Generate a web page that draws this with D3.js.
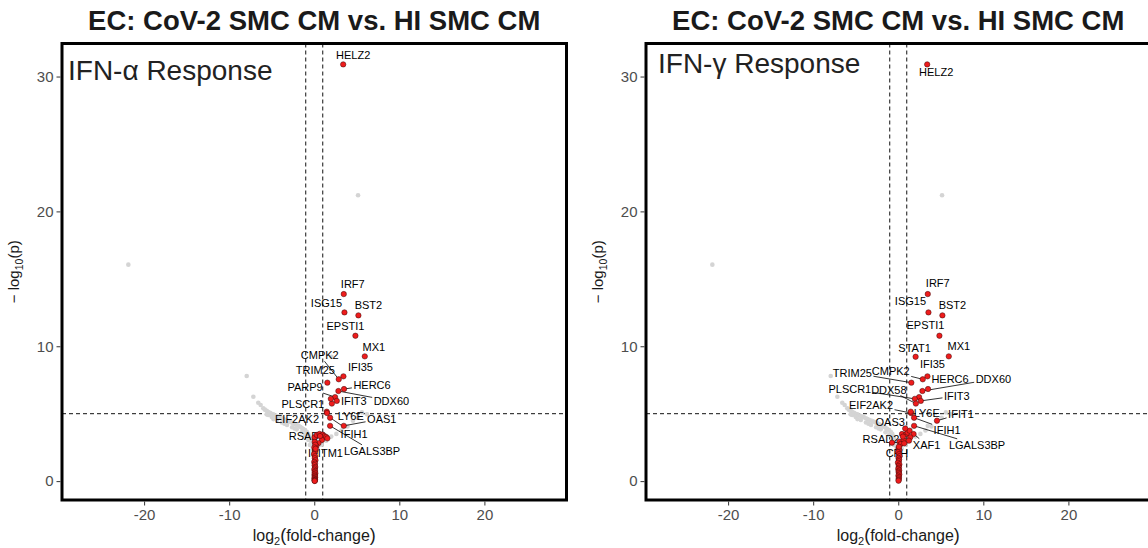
<!DOCTYPE html>
<html>
<head>
<meta charset="utf-8">
<script src="https://cdn.jsdelivr.net/npm/d3@7"></script>
<style>
  body { margin: 0; background: #fff; }
  svg { display: block; font-family: "Liberation Sans", Arial, Helvetica, sans-serif; }
</style>
</head>
<body>
<svg id="chart" width="1148" height="548"></svg>
<script>
// ---- Data -------------------------------------------------------------
const plotTitle = "EC: CoV-2 SMC CM vs. HI SMC CM";
const xTicks = [-20, -10, 0, 10, 20];
const yTicks = [0, 10, 20, 30];
const fcCut = 1;      // |log2 fold-change| threshold
const pCut = 5;       // -log10(p) threshold

// all tested genes (drawn in grey underneath each gene set)
const bgFC = [-21.85, 5.15, -7.94, -7.16, -6.58, -6.3, -5.99, -5.8, -5.59, -5.4, -5.2, -5.0, -4.81, -4.6,
  -4.41, -4.2, -4.02, -3.8, -3.63, -3.45, -3.24, -3.05, -2.85, -2.65, -2.45, -2.25, -2.06, -1.85, -1.67,
  -1.48, -1.28, -1.08, -0.88, -0.7, -0.55, -0.45, -0.35, -0.25, -0.18, -0.12,
  -5.6, -5.4, -5.0, -4.8, -4.4, -3.8, -3.5, -3.2, -2.6, -2.3, -2.06, -1.5, -1.08, -0.69, -0.5,
  0.4, 0.8, 1.4, 2.0, 2.6, 3.2, 3.9, 4.55, 3.47, 5.1, 5.6, 6.2, 2.04];
const bgP = [16.05, 21.2, 7.8, 6.26, 5.81, 5.64, 5.40, 5.3, 5.22, 5.12, 5.07, 5.0, 4.95, 4.88,
  4.83, 4.77, 4.73, 4.66, 4.6, 4.55, 4.5, 4.45, 4.4, 4.34, 4.28, 4.22, 4.16, 4.1, 4.03,
  3.95, 3.86, 3.76, 3.66, 3.5, 3.3, 3.1, 2.9, 2.7, 2.5, 2.3,
  4.95, 4.9, 4.75, 4.6, 4.53, 4.35, 4.25, 4.16, 4.0, 3.9, 3.84, 3.62, 3.42, 3.05, 2.68,
  2.4, 2.7, 3.0, 3.3, 3.5, 3.75, 4.05, 4.48, 4.1, 4.7, 5.1, 4.95, 9.22];

// IFN-alpha response genes: labelled members
const alphaGenes = ["HELZ2", "IRF7", "ISG15", "BST2", "EPSTI1", "MX1", "IFI35", "CMPK2", "TRIM25", "HERC6",
  "DDX60", "PARP9", "IFIT3", "PLSCR1", "LY6E", "EIF2AK2", "OAS1", "IFIH1", "LGALS3BP", "RSAD2", "IFITM1"];
const alphaFC = [3.4, 3.47, 3.55, 5.19, 4.84, 5.94, 3.43, 2.88, 1.54, 3.5,
  2.84, 2.45, 2.65, 1.95, 1.47, 1.5, 3.47, 1.86, 1.86, 0.68, 0.15];
const alphaP = [30.9, 13.87, 12.51, 12.29, 10.78, 9.25, 7.77, 7.55, 7.3, 6.83,
  6.68, 6.23, 5.95, 6.1, 5.15, 5.05, 4.1, 4.7, 4.1, 3.34, 2.4];
// IFN-alpha response genes: remaining members
const alphaOtherFC = [2.07, 0.05, 0.3, 0.62, 1.0, 1.19, 1.4, 1.54, 0.9, 0.5, 0.25,
  0.05, 0.12, 0.02, 0.15, 0.08, -0.03, 0.1, 0.06, 0.14, 0.0, 0.09, 0.04, 0.12, 0.07, 0.01,
  0.1, 0.05, 0.13, 0.03, 0.08, 0.06, 0.11, 0.02, 0.07, 0.09, 0.04, 0.06, 0.05];
const alphaOtherP = [5.75, 3.25, 3.42, 3.5, 3.45, 3.34, 3.28, 3.17, 3.05, 2.82, 2.6,
  2.9, 2.7, 2.5, 2.3, 2.15, 2.0, 1.85, 1.7, 1.55, 1.42, 1.3, 1.18, 1.05, 0.95, 0.85,
  0.75, 0.66, 0.58, 0.5, 0.42, 0.35, 0.28, 0.22, 0.16, 0.1, 0.06, 0.03, 0.01];

// IFN-gamma response genes: labelled members
const gammaGenes = ["HELZ2", "IRF7", "ISG15", "BST2", "EPSTI1", "MX1", "STAT1", "IFI35", "CMPK2", "TRIM25",
  "HERC6", "DDX60", "PLSCR1", "DDX58", "IFIT3", "EIF2AK2", "LY6E", "IFIT1", "IFIH1", "LGALS3BP",
  "XAF1", "OAS3", "RSAD2", "CFH"];
const gammaFC = [3.4, 3.47, 3.55, 5.19, 4.84, 5.94, 2.04, 3.43, 2.88, 1.54,
  3.5, 2.84, 1.95, 2.07, 2.65, 1.5, 1.47, 4.55, 1.86, 1.86,
  1.33, 0.82, -0.74, 0.08];
const gammaP = [30.9, 13.87, 12.51, 12.29, 10.78, 9.25, 9.22, 7.77, 7.55, 7.3,
  6.83, 6.68, 6.1, 5.75, 5.95, 5.05, 5.15, 4.48, 4.7, 4.1,
  3.74, 3.9, 2.85, 2.55];
// IFN-gamma response genes: remaining members
const gammaOtherFC = [2.45, 0.44, 0.94, 1.8, 1.41, 0.16, 0.63, 1.1, 0.3, 0.55, 1.25, 0.7,
  0.04, 0.12, -0.02, 0.09, 0.15, 0.03, 0.1, 0.06, -0.04, 0.13, 0.05, 0.08, 0.0, 0.11,
  0.04, 0.07, 0.12, 0.02, 0.09, 0.05, 0.06, 0.03];
const gammaOtherP = [6.23, 3.49, 3.49, 3.49, 3.25, 2.92, 3.05, 3.6, 2.75, 3.3, 3.0, 2.8,
  2.45, 2.3, 2.15, 2.0, 1.85, 1.72, 1.6, 1.48, 1.36, 1.24, 1.12, 1.0, 0.9, 0.8,
  0.7, 0.6, 0.5, 0.4, 0.3, 0.2, 0.1, 0.03];

// ---- Label placement (pixel nudges from each point; 1 = draw a leader segment)
const alphaNudge = {
  HELZ2: [10, -9, 0], IRF7: [9, -10, 0], ISG15: [-18, -9, 0], BST2: [10, -10, 0],
  EPSTI1: [-10, -10, 0], MX1: [9, -9, 0], IFI35: [17, -9, 0], CMPK2: [-19, -24, 1],
  TRIM25: [-12, -13, 0], HERC6: [28, -4, 1], DDX60: [53, 10, 1], PARP9: [-30, -10, 1],
  IFIT3: [17, 0, 0], PLSCR1: [-28, 5, 0], LY6E: [24, 4, 0], EIF2AK2: [-30, 6, 0],
  OAS1: [38, -7, 1], IFIH1: [24, 16, 1], LGALS3BP: [42, 25, 1], RSAD2: [-13, 0, 0],
  IFITM1: [10, 4, 0]
};
const gammaNudge = {
  HELZ2: [9, 8, 0], IRF7: [10, -11, 0], ISG15: [-18, -11, 0], BST2: [10, -10, 0],
  EPSTI1: [-14, -11, 0], MX1: [10, -10, 0], STAT1: [-1, -9, 0], IFI35: [5, -12, 0],
  CMPK2: [-32, -8, 1], TRIM25: [-59, -10, 1], HERC6: [22, -10, 0], DDX60: [71, -12, 1],
  PLSCR1: [-65, -10, 1], DDX58: [-27, -14, 1], IFIT3: [36, -5, 1], EIF2AK2: [-40, -8, 1],
  LY6E: [16, 1, 0], IFIT1: [24, -7, 1], IFIH1: [33, 12, 1], LGALS3BP: [63, 19, 1],
  XAF1: [17, 14, 1], OAS3: [-15, -6, 1], RSAD2: [-11, -4, 0], CFH: [-2, 6, 0]
};

// ---- Layout -----------------------------------------------------------
const panelW = 504.5, panelTop = 43.5, panelBottom = 500;
const xDomain = [-29.65, 29.65];
const yDomain = [-1.4, 32.45];

const panels = [
  { left: 62, subtitle: "IFN-α Response", subX: 6, subY: 80,
    genes: alphaGenes, fc: alphaFC, p: alphaP, otherFC: alphaOtherFC, otherP: alphaOtherP, nudge: alphaNudge },
  { left: 646, subtitle: "IFN-γ Response", subX: 12, subY: 73,
    genes: gammaGenes, fc: gammaFC, p: gammaP, otherFC: gammaOtherFC, otherP: gammaOtherP, nudge: gammaNudge }
];

const svg = d3.select("#chart");
const bg = bgFC.map((v, i) => ({ fc: v, p: bgP[i] }));

panels.forEach((pn, k) => {
  const x = d3.scaleLinear().domain(xDomain).range([pn.left, pn.left + panelW]);
  const y = d3.scaleLinear().domain(yDomain).range([panelBottom, panelTop]);
  const g = svg.append("g");
  const clipId = "clip" + k;
  svg.append("clipPath").attr("id", clipId)
    .append("rect").attr("x", pn.left).attr("y", panelTop).attr("width", panelW).attr("height", panelBottom - panelTop);

  const plot = g.append("g").attr("clip-path", `url(#${clipId})`);

  // threshold lines
  const dash = "4,3";
  [-fcCut, fcCut].forEach(v => {
    plot.append("line").attr("x1", x(v)).attr("x2", x(v)).attr("y1", panelTop).attr("y2", panelBottom)
      .attr("stroke", "#111").attr("stroke-width", 1).attr("stroke-dasharray", dash);
  });
  plot.append("line").attr("x1", pn.left).attr("x2", pn.left + panelW).attr("y1", y(pCut)).attr("y2", y(pCut))
    .attr("stroke", "#111").attr("stroke-width", 1).attr("stroke-dasharray", dash);

  // background genes
  plot.selectAll("circle.bg").data(bg).join("circle").attr("class", "bg")
    .attr("cx", d => x(d.fc)).attr("cy", d => y(d.p)).attr("r", 2.3).attr("fill", "#d4d4d4");

  // labels with leader segments
  const labelled = pn.genes.map((name, i) => ({ name, fc: pn.fc[i], p: pn.p[i] }));
  const lab = plot.append("g");
  labelled.forEach(d => {
    const nd = pn.nudge[d.name] || [0, -9, 0];
    const px = x(d.fc), py = y(d.p);
    const cx = px + nd[0], cy = py + nd[1];
    const t = lab.append("text").attr("x", cx).attr("y", cy).attr("dy", "0.36em")
      .attr("text-anchor", "middle").attr("font-size", 11).attr("fill", "#000").text(d.name);
    if (nd[2]) {
      const hw = t.node().getComputedTextLength() / 2 + 1.5, hh = 6;
      const dx = px - cx, dy = py - cy;
      const tx = dx !== 0 ? hw / Math.abs(dx) : Infinity;
      const ty = dy !== 0 ? hh / Math.abs(dy) : Infinity;
      const s = Math.min(tx, ty, 1);
      lab.append("line").attr("x1", px).attr("y1", py)
        .attr("x2", cx + dx * s).attr("y2", cy + dy * s)
        .attr("stroke", "#000").attr("stroke-width", 0.8);
    }
  });

  // gene-set members
  const others = pn.otherFC.map((v, i) => ({ fc: v, p: pn.otherP[i] }));
  const members = others.concat(labelled);
  plot.selectAll("circle.hit").data(members).join("circle").attr("class", "hit")
    .attr("cx", d => x(d.fc)).attr("cy", d => y(d.p)).attr("r", 2.7)
    .attr("fill", "#ee1c1c").attr("stroke", "#3a0a0a").attr("stroke-width", 0.5);

  // panel frame
  g.append("rect").attr("x", pn.left).attr("y", panelTop).attr("width", panelW).attr("height", panelBottom - panelTop)
    .attr("fill", "none").attr("stroke", "#000").attr("stroke-width", 3);

  // axes
  const ya = g.append("g").attr("transform", `translate(${pn.left - 1.5},0)`)
    .call(d3.axisLeft(y).tickValues(yTicks).tickSize(4).tickPadding(3).tickFormat(d3.format("d")));
  const xa = g.append("g").attr("transform", `translate(0,${panelBottom + 1.5})`)
    .call(d3.axisBottom(x).tickValues(xTicks).tickSize(4).tickPadding(4).tickFormat(d => String(d)));
  [ya, xa].forEach(a => {
    a.select(".domain").remove();
    a.selectAll(".tick line").attr("stroke", "#333").attr("stroke-width", 1);
    a.selectAll(".tick text").attr("fill", "#4d4d4d").attr("font-size", 15)
      .attr("font-family", "Liberation Sans, Arial, sans-serif");
  });

  // subtitle inside the panel
  g.append("text").attr("x", pn.left + pn.subX).attr("y", pn.subY)
    .attr("font-size", 28).attr("fill", "#222").text(pn.subtitle);

  // title
  const cxp = pn.left + panelW / 2;
  g.append("text").attr("x", cxp).attr("y", 30).attr("text-anchor", "middle")
    .attr("font-size", 27.5).attr("font-weight", "bold").attr("fill", "#1a1a1a").text(plotTitle);

  // x-axis title: log2(fold-change)
  const xt = g.append("text").attr("x", cxp).attr("y", 541).attr("text-anchor", "middle")
    .attr("font-size", 16).attr("fill", "#1a1a1a");
  xt.append("tspan").text("log");
  xt.append("tspan").attr("font-size", 11).attr("dy", 4).text("2");
  xt.append("tspan").attr("dy", -4).attr("font-size", 18).text("(");
  xt.append("tspan").text("fold-change");
  xt.append("tspan").attr("font-size", 18).text(")");

  // y-axis title: -log10(p)
  const yt = g.append("text").attr("transform", `translate(${pn.left - 43},${(panelTop + panelBottom) / 2}) rotate(-90)`)
    .attr("text-anchor", "middle").attr("font-size", 15).attr("fill", "#1a1a1a");
  yt.append("tspan").text("− log");
  yt.append("tspan").attr("font-size", 10.5).attr("dy", 4).text("10");
  yt.append("tspan").attr("dy", -4).text("(p)");
});
</script>
</body>
</html>
